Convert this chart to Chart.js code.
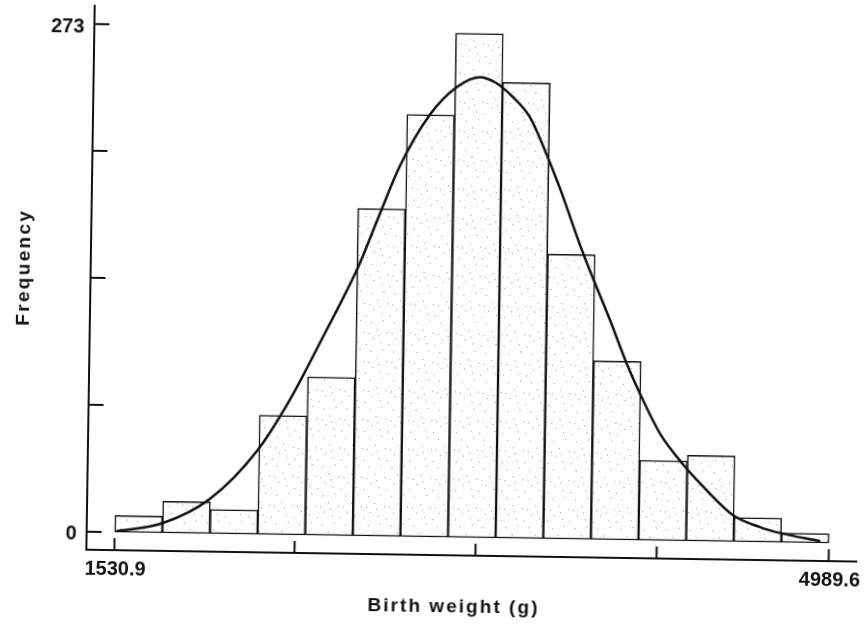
<!DOCTYPE html>
<html>
<head>
<meta charset="utf-8">
<script src="https://cdn.jsdelivr.net/npm/chart.js@4.4.1/dist/chart.umd.min.js"></script>
<style>
  html, body { margin: 0; padding: 0; background: #fff; overflow: hidden; }
  #chart { display: block; transform: rotate(0.88deg); transform-origin: 50% 50%; }
</style>
</head>
<body>
<canvas id="chart" width="864" height="628"></canvas>
<script>
// Birth weight histogram, 15 equal bins between the two labelled limits
var binStart = 1530.9;
var binEnd = 4989.6;
var frequencies = [9, 17, 13, 64, 85, 176, 227, 271, 245, 153, 96, 43, 46, 13, 5];

// fitted normal curve
var curveX = [1540, 1762, 1988, 2217, 2368, 2525, 2688, 2790, 2884, 3025, 3154, 3265, 3338, 3426, 3510, 3600, 3661, 3778, 3913, 3997, 4063, 4163, 4272, 4361, 4523, 4655, 4752, 4947];
var curveY = [0.5, 5.2, 18.5, 45.3, 72.4, 106.7, 144, 173, 199, 226.8, 242, 247.6, 245, 237.2, 226.5, 205, 188.5, 153.7, 118.1, 94.9, 78.9, 57.6, 41.8, 31.1, 14.2, 8, 5, 1];

// axis ticks (only the ends are labelled)
var xTicks = [1530.9, 2403, 3279, 4156, 4989.6];
var xTickLabels = ['1530.9', '', '', '', '4989.6'];
var yTicks = [0, 68.25, 136.5, 204.75, 273];
var yTickLabels = ['0', '', '', '', '273'];

var binWidth = (binEnd - binStart) / frequencies.length;
var barData = frequencies.map(function(f, i) {
    return { x: binStart + (i + 0.5) * binWidth, y: f };
});
var curveData = curveX.map(function(x, i) { return { x: x, y: curveY[i] }; });

// light speckled fill like the printed bars
function speckle() {
    var c = document.createElement('canvas');
    c.width = 23; c.height = 29;
    var g = c.getContext('2d');
    g.fillStyle = '#fdfdfd';
    g.fillRect(0, 0, 23, 29);
    g.fillStyle = 'rgba(40,40,40,0.45)';
    [[3, 4], [15, 2], [9, 11], [19, 14], [5, 20], [13, 24], [21, 26], [1, 15], [11, 17]].forEach(function(d) {
        g.fillRect(d[0], d[1], 1, 1);
    });
    return g.createPattern(c, 'repeat');
}

function fitText(ctx, text, width) {
    ctx.letterSpacing = '0px';
    var w = ctx.measureText(text).width;
    ctx.letterSpacing = ((width - w) / text.length) + 'px';
}

var axesPlugin = {
    id: 'handAxes',
    afterDraw: function(chart) {
        var ctx = chart.ctx;
        var xs = chart.scales.x, ys = chart.scales.y, area = chart.chartArea;
        ctx.save();
        ctx.strokeStyle = '#111';
        ctx.lineWidth = 2;
        ctx.beginPath();
        ctx.moveTo(area.left, area.top);
        ctx.lineTo(area.left, area.bottom);
        ctx.moveTo(area.left - 1, area.bottom);
        ctx.lineTo(area.right, area.bottom);
        yTicks.forEach(function(v) {
            var p = ys.getPixelForValue(v);
            ctx.moveTo(area.left, p);
            ctx.lineTo(area.left + 15, p);
        });
        xTicks.forEach(function(v) {
            var p = xs.getPixelForValue(v);
            ctx.moveTo(p, area.bottom);
            ctx.lineTo(p, area.bottom - 12);
        });
        ctx.stroke();

        ctx.fillStyle = '#111';
        ctx.font = 'bold 20px "Liberation Sans", Arial, sans-serif';
        ctx.textBaseline = 'middle';
        ctx.textAlign = 'right';
        yTicks.forEach(function(v, i) {
            if (yTickLabels[i]) ctx.fillText(yTickLabels[i], area.left - 10, ys.getPixelForValue(v) + 3);
        });
        ctx.textAlign = 'center';
        xTicks.forEach(function(v, i) {
            if (xTickLabels[i]) ctx.fillText(xTickLabels[i], xs.getPixelForValue(v) + 1, area.bottom + 19);
        });

        // axis titles
        ctx.font = 'bold 19px "Liberation Sans", Arial, sans-serif';
        ctx.textAlign = 'left';
        fitText(ctx, 'Birth weight (g)', 172);
        ctx.fillText('Birth weight (g)', 458 - 86, 607);

        ctx.translate(24, 274);
        ctx.rotate(-Math.PI / 2);
        fitText(ctx, 'Frequency', 117);
        ctx.fillText('Frequency', -58, 0);
        ctx.restore();
    }
};

var chart = new Chart(document.getElementById('chart'), {
    data: {
        datasets: [{
            type: 'line',
            data: curveData,
            borderColor: '#111',
            borderWidth: 2.5,
            pointRadius: 0,
            fill: false,
            cubicInterpolationMode: 'monotone',
            order: 0
        }, {
            type: 'bar',
            data: barData,
            backgroundColor: speckle(),
            borderColor: '#111',
            borderWidth: 1.5,
            borderSkipped: false,
            barPercentage: 1,
            categoryPercentage: 1,
            order: 1
        }]
    },
    options: {
        responsive: false,
        animation: false,
        events: [],
        layout: { padding: { left: 90, right: 3, top: 10, bottom: 73 } },
        plugins: { legend: { display: false }, tooltip: { enabled: false } },
        scales: {
            x: { type: 'linear', min: 1395, max: 5128, offset: false, display: false },
            y: { type: 'linear', min: -9.7, max: 283.3, display: false }
        }
    },
    plugins: [axesPlugin]
});
</script>
</body>
</html>
